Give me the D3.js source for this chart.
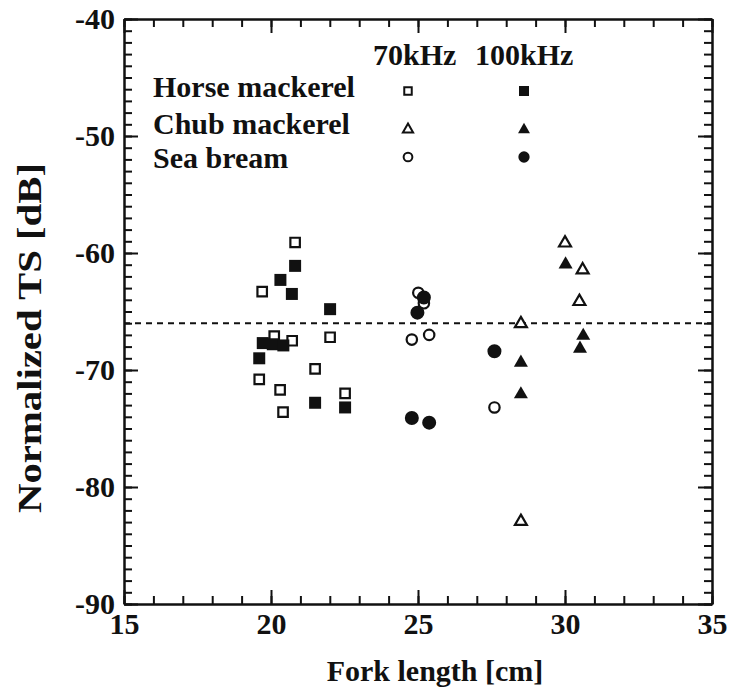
<!DOCTYPE html>
<html>
<head>
<meta charset="utf-8">
<script src="https://cdn.jsdelivr.net/npm/d3@7"></script>
<style>
  html, body { margin: 0; padding: 0; background: #fff; }
  svg text { font-family: "Liberation Serif", "Times New Roman", serif; font-weight: bold; fill: #111; }
</style>
</head>
<body>
<svg id="chart" width="729" height="690"></svg>
<script>
// Fork length [cm] and normalized TS [dB] per species and frequency
const horse70 = [[20.82,-59.1],[19.70,-63.3],[20.11,-67.1],[20.72,-67.5],[22.01,-67.2],
                 [19.60,-70.8],[21.50,-69.9],[20.31,-71.7],[22.52,-72.0],[20.41,-73.6]];
const horse100 = [[20.82,-61.1],[20.32,-62.3],[20.71,-63.5],[22.01,-64.8],[19.72,-67.7],
                  [20.06,-67.8],[20.42,-67.9],[19.60,-69.0],[21.50,-72.8],[22.52,-73.2]];
const chub70 = [[30.00,-59.0],[30.60,-61.3],[30.49,-64.0],[28.50,-65.9],[28.50,-82.8]];
const chub100 = [[30.02,-60.8],[30.62,-66.9],[30.51,-68.0],[28.50,-69.2],[28.50,-71.9]];
const bream70 = [[25.01,-63.4],[25.20,-64.3],[24.79,-67.4],[25.38,-67.0],[27.60,-73.2]];
const bream100 = [[25.20,-63.8],[24.98,-65.1],[27.60,-68.4],[24.79,-74.1],[25.38,-74.5]];

const referenceTS = -66;
const xTicks = [15, 20, 25, 30, 35];
const yTicks = [-90, -80, -70, -60, -50, -40];
const speciesNames = ["Horse mackerel", "Chub mackerel", "Sea bream"];
const frequencyNames = ["70kHz", "100kHz"];

const svg = d3.select("#chart");
const x = d3.scaleLinear().domain([15, 35]).range([124, 712]);
const y = d3.scaleLinear().domain([-90, -40]).range([604, 19]);
const ink = "#111";
const plain = d => String(d);   // keep the ASCII hyphen for negatives

// triangle centred on its bounding box
const triBox = {
  draw(ctx, size) {
    const s = Math.sqrt(size * 4 / Math.sqrt(3));
    const h = s * Math.sqrt(3) / 2;
    ctx.moveTo(0, -h / 2);
    ctx.lineTo(s / 2, h / 2);
    ctx.lineTo(-s / 2, h / 2);
    ctx.closePath();
  }
};

// axes: inward ticks on all four sides
function styleAxis(g) {
  g.selectAll(".domain").attr("stroke", ink).attr("stroke-width", 2);
  g.selectAll(".tick line").attr("stroke", ink).attr("stroke-width", 2);
}
const minorX = d3.range(15, 36, 1);
const minorY = d3.range(-90, -39, 1);

svg.append("g").attr("transform", `translate(0,${y(-90)})`)
  .call(d3.axisBottom(x).tickValues(minorX).tickSize(-8).tickFormat("").tickSizeOuter(0)).call(styleAxis);
svg.append("g").attr("transform", `translate(0,${y(-90)})`)
  .call(d3.axisBottom(x).tickValues(xTicks).tickSize(-14).tickPadding(8).tickFormat(plain).tickSizeOuter(0)).call(styleAxis)
  .call(g => g.selectAll("text").attr("font-size", 30).attr("dy", "0.72em").attr("fill", ink));
svg.append("g").attr("transform", `translate(0,${y(-40)})`)
  .call(d3.axisTop(x).tickValues(minorX).tickSize(-8).tickFormat("").tickSizeOuter(0)).call(styleAxis);
svg.append("g").attr("transform", `translate(0,${y(-40)})`)
  .call(d3.axisTop(x).tickValues(xTicks).tickSize(-14).tickFormat("").tickSizeOuter(0)).call(styleAxis);

svg.append("g").attr("transform", `translate(${x(15)},0)`)
  .call(d3.axisLeft(y).tickValues(minorY).tickSize(-8).tickFormat("").tickSizeOuter(0)).call(styleAxis);
svg.append("g").attr("transform", `translate(${x(15)},0)`)
  .call(d3.axisLeft(y).tickValues(yTicks).tickSize(-14).tickPadding(9).tickFormat(plain).tickSizeOuter(0)).call(styleAxis)
  .call(g => g.selectAll("text").attr("font-size", 30).attr("fill", ink));
svg.append("g").attr("transform", `translate(${x(35)},0)`)
  .call(d3.axisRight(y).tickValues(minorY).tickSize(-8).tickFormat("").tickSizeOuter(0)).call(styleAxis);
svg.append("g").attr("transform", `translate(${x(35)},0)`)
  .call(d3.axisRight(y).tickValues(yTicks).tickSize(-14).tickFormat("").tickSizeOuter(0)).call(styleAxis);

svg.selectAll(".tick text").attr("font-family", "Liberation Serif").attr("font-weight", "bold");

// axis titles
svg.append("text").attr("x", 435).attr("y", 681).attr("text-anchor", "middle")
  .attr("font-size", 30).text("Fork length [cm]");
svg.append("text").attr("transform", "translate(41,338) rotate(-90)").attr("text-anchor", "middle")
  .attr("font-size", 34).attr("textLength", 350).attr("lengthAdjust", "spacingAndGlyphs")
  .text("Normalized TS [dB]");

// reference level
svg.append("line").attr("x1", x(15)).attr("x2", x(35)).attr("y1", y(referenceTS)).attr("y2", y(referenceTS))
  .attr("stroke", ink).attr("stroke-width", 2).attr("stroke-dasharray", "6,5");

// markers
function plot(data, type, size, filled) {
  svg.append("g").selectAll("path").data(data).join("path")
    .attr("transform", d => `translate(${x(d[0])},${y(d[1])})`)
    .attr("d", d3.symbol().type(type).size(size))
    .attr("fill", filled ? ink : "#fff")
    .attr("stroke", ink)
    .attr("stroke-width", filled ? 0 : 2.2);
}
plot(horse70, d3.symbolSquare, 90, false);
plot(horse100, d3.symbolSquare, 144, true);
plot(chub70, triBox, 62, false);
plot(chub100, triBox, 85, true);
plot(bream70, d3.symbolCircle, 85, false);
plot(bream100, d3.symbolCircle, 154, true);

// legend
const legendRowsY = [97, 134, 168];
const legendSymY = [91, 128, 157];
const legendColX = [408, 524];
svg.append("text").attr("x", 373).attr("y", 65).attr("font-size", 30).text(frequencyNames[0]);
svg.append("text").attr("x", 475).attr("y", 65).attr("font-size", 30).text(frequencyNames[1]);
speciesNames.forEach((name, i) => {
  svg.append("text").attr("x", 153).attr("y", legendRowsY[i]).attr("font-size", 30).text(name);
});
const legendTypes = [[d3.symbolSquare, 56, 100], [triBox, 45, 62], [d3.symbolCircle, 60, 100]];
legendTypes.forEach(([type, openSize, fillSize], i) => {
  svg.append("path").attr("transform", `translate(${legendColX[0]},${legendSymY[i]})`)
    .attr("d", d3.symbol().type(type).size(openSize)).attr("fill", "#fff").attr("stroke", ink).attr("stroke-width", 2);
  svg.append("path").attr("transform", `translate(${legendColX[1]},${legendSymY[i]})`)
    .attr("d", d3.symbol().type(type).size(fillSize)).attr("fill", ink);
});
</script>
</body>
</html>
